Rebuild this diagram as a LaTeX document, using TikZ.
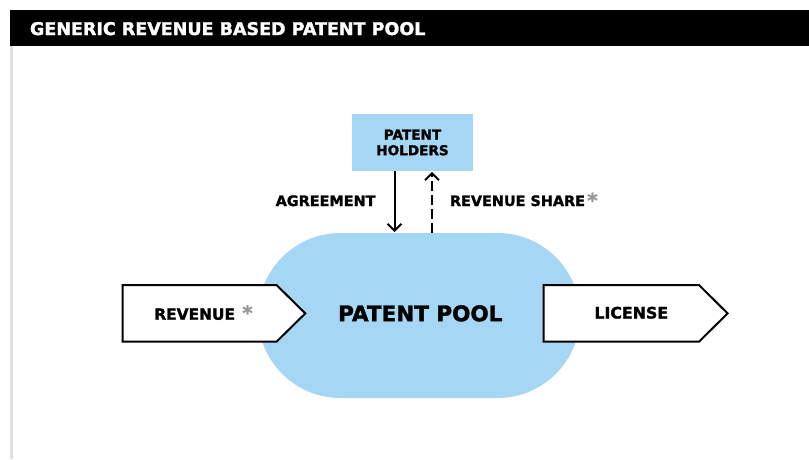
\documentclass[tikz,border=0pt]{standalone}
\usepackage{fontspec}
\setmainfont{DejaVu Sans}[BoldFeatures={FakeBold=1.6}]
\usetikzlibrary{arrows.meta,calc}

\definecolor{poolblue}{HTML}{A5D7F5}
\definecolor{stargray}{HTML}{9A9A9A}
\definecolor{railgray}{HTML}{E0E0E0}

\begin{document}
\begin{tikzpicture}[x=1pt,y=-1pt,
  every node/.style={inner sep=0pt, outer sep=0pt},
  txt/.style={font=\bfseries\fontsize{#1}{#1}\selectfont},
  bluebox/.style={fill=poolblue, draw=none},
  arrowbox/.style={draw=black, fill=white, line width=2pt, miter limit=10},
  flow/.style={draw=black, line width=2pt, -{Straight Barb[length=7pt,width=14pt]}},
  backflow/.style={flow, dash pattern=on 10pt off 4pt},
  star/.style={txt=20, text=stargray, anchor=base}
]
\useasboundingbox (0,0) rectangle (809,459);

% title bar and side rail
\fill[black] (10,10) rectangle (809,45.5);
\fill[railgray] (10,45.5) rectangle (12.7,459);
\node[txt=17.5, text=white, anchor=base west] (title) at (30,35)
  {GENERIC REVENUE BASED PATENT POOL};

% the pool
\node[bluebox, rounded corners=82.5pt, minimum width=322pt, minimum height=165pt]
  (pool) at (419,315.5) {};
\node[txt=21.5] (pooltitle) at (420.3,313.4) {PATENT POOL};

% patent holders
\node[bluebox, minimum width=121pt, minimum height=57pt, align=center,
  font=\bfseries\fontsize{13.6}{15.7}\selectfont]
  (holders) at (412.5,142.5) {PATENT\\HOLDERS};

% agreement and revenue share connectors
\coordinate (agx) at (394.5,0);
\coordinate (rsx) at (432,0);
\draw[flow, shorten >=0.8pt] (holders.south -| agx) -- (pool.north -| agx);
\draw[backflow, shorten >=0.8pt] (pool.north -| rsx) -- (holders.south -| rsx);
\node[txt=14.4, anchor=base east] (agrlabel) at (375.5,206) {AGREEMENT};
\node[txt=14.4, anchor=base west] (rslabel) at (450,206) {REVENUE SHARE};
\node[star] (rsstar) at (592.5,207.5) {*};

% revenue in, license out
\draw[arrowbox] (122.7,285) -- (276.5,285) -- (305.3,313.4) -- (276.5,341.7)
  -- (122.7,341.7) -- cycle;
\node[txt=15.4, anchor=base west] (revlabel) at (154.3,319.7) {REVENUE};
\node[star] (revstar) at (247.5,320) {*};

\draw[arrowbox] (543.7,285) -- (699,285) -- (727.6,313.4) -- (699,341.7)
  -- (543.7,341.7) -- cycle;
\node[txt=15.8, anchor=base] (liclabel) at (631.3,318.5) {LICENSE};
\end{tikzpicture}
\end{document}
